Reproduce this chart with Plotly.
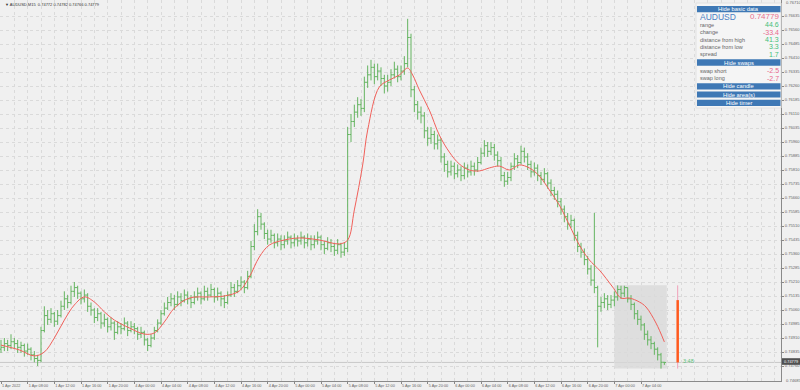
import plotly.graph_objects as go

# ---------------- data (AUDUSD, 30-min aggregation of the M15 chart) ----------------
# bar index in M15 bars counted from 1 Apr 04:00 (weekend gap removed)
bar_index = list(range(0, 400, 2))
first_open = 0.7485
close = [0.7486,0.7488,0.7487,0.7489,0.7488,0.7486,0.7487,0.7484,0.7485,0.7482,
0.7480,0.7479,0.7495,0.7503,0.7501,0.7504,0.7500,0.7503,0.7508,0.7512,
0.7510,0.7516,0.7518,0.7515,0.7512,0.7514,0.7508,0.7506,0.7502,0.7504,
0.7499,0.7501,0.7497,0.7499,0.7494,0.7497,0.7496,0.7499,0.7495,0.7497,
0.7496,0.7493,0.7494,0.7490,0.7487,0.7491,0.7495,0.7499,0.7504,0.7507,
0.7510,0.7512,0.7509,0.7513,0.7511,0.7514,0.7512,0.7510,0.7513,0.7515,
0.7512,0.7516,0.7514,0.7517,0.7513,0.7515,0.7512,0.7510,0.7514,0.7518,
0.7516,0.7519,0.7521,0.7518,0.7524,0.7540,0.7548,0.7556,0.7552,0.7547,
0.7544,0.7546,0.7542,0.7544,0.7541,0.7543,0.7545,0.7542,0.7544,0.7543,
0.7545,0.7542,0.7544,0.7541,0.7543,0.7545,0.7541,0.7539,0.7542,0.7540,
0.7538,0.7541,0.7537,0.7539,0.7600,0.7607,0.7612,0.7616,0.7614,0.7628,
0.7632,0.7636,0.7631,0.7634,0.7630,0.7626,0.7628,0.7632,0.7635,0.7631,
0.7634,0.7638,0.7652,0.7624,0.7616,0.7612,0.7610,0.7602,0.7598,0.7600,
0.7595,0.7597,0.7588,0.7584,0.7580,0.7583,0.7579,0.7581,0.7578,0.7582,
0.7580,0.7583,0.7581,0.7585,0.7590,0.7594,0.7591,0.7593,0.7589,0.7586,
0.7578,0.7575,0.7577,0.7583,0.7587,0.7585,0.7591,0.7588,0.7584,0.7580,
0.7582,0.7578,0.7576,0.7579,0.7574,0.7570,0.7568,0.7564,0.7560,0.7556,
0.7552,0.7554,0.7546,0.7540,0.7537,0.7533,0.7528,0.7522,0.7518,0.7508,
0.7510,0.7512,0.7509,0.75113,0.7513,0.7517,0.7515,0.7518,0.7512,0.7509,
0.7504,0.7501,0.7498,0.7493,0.7490,0.7488,0.7485,0.7482,0.7478,0.74779]
high = [0.7490,0.7491,0.7490,0.7493,0.7491,0.7490,0.7489,0.7488,0.7488,0.7486,
0.7484,0.7482,0.7497,0.7508,0.7506,0.7507,0.7505,0.7506,0.7511,0.7516,
0.7514,0.7519,0.7521,0.7519,0.7516,0.7517,0.7515,0.7510,0.7507,0.7507,
0.7505,0.7504,0.7502,0.7502,0.7500,0.7500,0.7499,0.7502,0.7500,0.7500,
0.7499,0.7497,0.7497,0.7495,0.7491,0.7493,0.7497,0.7501,0.7506,0.7510,
0.7513,0.7515,0.7514,0.7516,0.7515,0.7517,0.7516,0.7514,0.7516,0.7518,
0.7516,0.7519,0.7518,0.7520,0.7518,0.7518,0.7516,0.7514,0.7516,0.7521,
0.7520,0.7522,0.7524,0.7522,0.7527,0.7543,0.7552,0.7560,0.7558,0.7553,
0.7549,0.7549,0.7547,0.7547,0.7546,0.7546,0.7548,0.7546,0.7547,0.7546,
0.7548,0.7546,0.7547,0.7546,0.7546,0.7548,0.7546,0.7543,0.7545,0.7544,
0.7542,0.7544,0.7542,0.7542,0.7604,0.7611,0.7616,0.7620,0.7619,0.7631,
0.7637,0.7640,0.7638,0.7638,0.7636,0.7632,0.7632,0.7635,0.7639,0.7637,
0.7637,0.7642,0.7662,0.7654,0.7626,0.7618,0.7615,0.7612,0.7604,0.7604,
0.7602,0.7600,0.7598,0.7590,0.7586,0.7586,0.7585,0.7584,0.7583,0.7585,
0.7584,0.7586,0.7585,0.7588,0.7593,0.7597,0.7596,0.7596,0.7595,0.7591,
0.7588,0.7580,0.7580,0.7585,0.7590,0.7589,0.7594,0.7593,0.7590,0.7586,
0.7585,0.7584,0.7580,0.7582,0.7580,0.7576,0.7572,0.7570,0.7566,0.7562,
0.7558,0.7557,0.7555,0.7548,0.7542,0.7539,0.7535,0.7530,0.7558,0.7519,
0.7513,0.7515,0.7514,0.7514,0.7516,0.75192,0.7519,0.7519,0.7518,0.7514,
0.7510,0.7506,0.7503,0.7499,0.7495,0.7492,0.7489,0.7486,0.7483,0.74782]
low = [0.7483,0.7484,0.7484,0.7485,0.7485,0.7483,0.7483,0.7481,0.7482,0.7479,
0.7478,0.7476,0.7478,0.7494,0.7498,0.7499,0.7497,0.7498,0.7502,0.7506,
0.7507,0.7509,0.7513,0.7512,0.7509,0.7510,0.7505,0.7503,0.7499,0.7500,
0.7496,0.7497,0.7494,0.7495,0.7490,0.7493,0.7493,0.7495,0.7492,0.7494,
0.7493,0.7490,0.7491,0.7487,0.7484,0.7486,0.7490,0.7494,0.7498,0.7503,
0.7506,0.7508,0.7506,0.7508,0.7508,0.7510,0.7509,0.7507,0.7509,0.7511,
0.7509,0.7511,0.7511,0.7513,0.7510,0.7511,0.7508,0.7507,0.7509,0.7513,
0.7513,0.7515,0.7517,0.7515,0.7517,0.7523,0.7538,0.7546,0.7549,0.7544,
0.7541,0.7542,0.7539,0.7540,0.7538,0.7539,0.7541,0.7539,0.7540,0.7540,
0.7541,0.7539,0.7540,0.7538,0.7539,0.7541,0.7538,0.7536,0.7538,0.7537,
0.7535,0.7536,0.7534,0.7535,0.7537,0.7596,0.7604,0.7609,0.7610,0.7612,
0.7625,0.7629,0.7627,0.7629,0.7626,0.7622,0.7623,0.7626,0.7630,0.7628,
0.7629,0.7632,0.7636,0.7620,0.7612,0.7608,0.7606,0.7598,0.7594,0.7595,
0.7592,0.7592,0.7585,0.7580,0.7577,0.7578,0.7576,0.7577,0.7575,0.7576,
0.7577,0.7578,0.7578,0.7580,0.7584,0.7588,0.7588,0.7589,0.7586,0.7583,
0.7575,0.7572,0.7573,0.7575,0.7581,0.7582,0.7584,0.7585,0.7581,0.7577,
0.7578,0.7575,0.7573,0.7574,0.7571,0.7567,0.7565,0.7561,0.7557,0.7553,
0.7549,0.7550,0.7543,0.7537,0.7534,0.7530,0.7525,0.7519,0.7515,0.7486,
0.7505,0.7507,0.7506,0.7507,0.7508,0.7511,0.7512,0.7513,0.7510,0.7506,
0.7501,0.7498,0.7495,0.7490,0.7487,0.7485,0.7482,0.7479,0.74746,0.74766]

# moving average (red line)
ma_index = [0,11,20,26,32,38,44,50,56,62,68,77,86,92,98,104,113,125,134,143,149,155,161,170,179,
            191,203,208,212,217,220,227,233,239,244,247,251,257,263,269,275,281,287,293,299,305,
            311,317,323,329,335,341,347,353,359,367,372,377,383,387,393,398]
ma_value = [0.74872,0.74846,0.74814,0.74835,0.74910,0.75006,0.75087,0.75130,0.75103,0.75050,0.75006,
            0.74964,0.74931,0.74937,0.74996,0.75070,0.75124,0.75130,0.75135,0.75162,0.75237,0.75344,
            0.75408,0.75435,0.75446,0.75435,0.75414,0.75435,0.75596,0.75837,0.76024,0.76255,0.76292,
            0.76319,0.76356,0.76319,0.76239,0.76131,0.75997,0.75906,0.75842,0.75810,0.75805,0.75821,
            0.75831,0.75810,0.75837,0.75821,0.75778,0.75703,0.75622,0.75515,0.75408,0.75328,0.75274,
            0.75183,0.75124,0.75124,0.75103,0.75076,0.74990,0.74889]

# daily candle (7 Apr) and info panel values
day_open, day_high, day_low, day_close = 0.75113, 0.75192, 0.74746, 0.74779
day_start_index = 368
candle_index = 406
symbol = "AUDUSD"
title_text = "\u25bc AUDUSD,M15  0.74772 0.74782 0.74766 0.74779"
info_labels = ["range", "change", "distance from high", "distance from low", "spread"]
info_values = ["44.6", "-33.4", "41.3", "3.3", "1.7"]
swap_labels = ["swap short", "swap long"]
swap_values = ["-2.5", "-2.7"]
timer_text = "3:48"

x_tick_index = list(range(0, 400, 16))
x_tick_text = ["1 Apr 2022", "1 Apr 08:00", "1 Apr 12:00", "1 Apr 16:00", "1 Apr 20:00",
               "4 Apr 00:00", "4 Apr 04:00", "4 Apr 08:00", "4 Apr 12:00", "4 Apr 16:00", "4 Apr 20:00",
               "5 Apr 00:00", "5 Apr 04:00", "5 Apr 08:00", "5 Apr 12:00", "5 Apr 16:00", "5 Apr 20:00",
               "6 Apr 00:00", "6 Apr 04:00", "6 Apr 08:00", "6 Apr 12:00", "6 Apr 16:00", "6 Apr 20:00",
               "7 Apr 00:00", "7 Apr 04:00"]
y_tick_values = [0.74760, 0.74835, 0.74910, 0.74985, 0.75060, 0.75135, 0.75210, 0.75285, 0.75360,
                 0.75435, 0.75510, 0.75585, 0.75660, 0.75735, 0.75810, 0.75885, 0.75960, 0.76035,
                 0.76110, 0.76185, 0.76260, 0.76335, 0.76410, 0.76485, 0.76560, 0.76635]
y_edge_labels = [0.76710, 0.74685]

# ---------------- figure ----------------
W, H = 800, 390
ML, MR, MT, MB = 0, 19, 0, 9
PW, PH = W - ML - MR, H - MT - MB
BG = "#f0f0f0"
FONT = "Liberation Sans, Arial, sans-serif"
GRID = "#dadada"
AXF = 4.1

def X(px):
    return (px - ML) / PW

def Y(py):
    return 1 - (py - MT) / PH

opens = [first_open] + close[:-1]

fig = go.Figure()

# today's range box
fig.add_shape(type="rect", xref="x", yref="y", x0=day_start_index, x1=bar_index[-1] + 1.5,
              y0=day_low, y1=day_high, fillcolor="#d8d8d8", opacity=0.75, line_width=0, layer="below")
# current price line
fig.add_shape(type="line", xref="paper", yref="y", x0=0, x1=1, y0=day_close, y1=day_close,
              line=dict(color="#c8c8c8", width=1), layer="below")

fig.add_trace(go.Ohlc(x=bar_index, open=opens, high=high, low=low, close=close,
                      increasing=dict(line=dict(color="#64b460", width=1)),
                      decreasing=dict(line=dict(color="#64b460", width=1)),
                      tickwidth=0.5, hoverinfo="skip", showlegend=False))
fig.add_trace(go.Scatter(x=ma_index, y=ma_value, mode="lines", line=dict(color="#f0605a", width=1),
                         line_shape="spline", hoverinfo="skip", showlegend=False))

# daily candle
fig.add_trace(go.Scatter(x=[candle_index, candle_index], y=[day_low, day_high], mode="lines",
                         line=dict(color="#f0a0b8", width=1), hoverinfo="skip", showlegend=False))
fig.add_trace(go.Scatter(x=[candle_index, candle_index], y=[day_open, day_close], mode="lines",
                         line=dict(color="#ff5a1e", width=2.5), hoverinfo="skip", showlegend=False))

ann = []
ann.append(dict(x=candle_index + 2, y=day_close + 0.00008, xref="x", yref="y", text=timer_text,
                showarrow=False, xanchor="left", yanchor="middle",
                font=dict(size=5.5, color="#5cc07a", family=FONT)))
ann.append(dict(x=X(3), y=Y(4), xref="paper", yref="paper", text=title_text, showarrow=False,
                xanchor="left", yanchor="middle", font=dict(size=4, color="#333", family=FONT)))

# price box on the axis
fig.add_shape(type="rect", xref="paper", yref="paper", x0=X(782), x1=X(800), y0=Y(364.8), y1=Y(358.2),
              fillcolor="#505050", line_width=0)
ann.append(dict(x=X(791), y=Y(361.5), xref="paper", yref="paper", text=f"{day_close:.5f}", showarrow=False,
                xanchor="center", yanchor="middle", font=dict(size=3.9, color="white", family=FONT)))
for v in y_edge_labels:
    ann.append(dict(x=X(784), y=v, xref="paper", yref="y", text=f"{v:.5f}", showarrow=False,
                    xanchor="left", yanchor="middle", font=dict(size=AXF, color="#666", family=FONT)))

# info panel
fig.add_shape(type="rect", xref="paper", yref="paper", x0=X(696), x1=X(781), y0=Y(108), y1=Y(3),
              fillcolor="#f5f5f5", line=dict(color="#e2e2e2", width=1))

BTN = "#3e78b5"
def button(y0, y1, label):
    fig.add_shape(type="rect", xref="paper", yref="paper", x0=X(697), x1=X(780.5), y0=Y(y1), y1=Y(y0),
                  fillcolor=BTN, line_width=0)
    ann.append(dict(x=X(738.5), y=Y((y0 + y1) / 2), xref="paper", yref="paper", text=label,
                    showarrow=False, xanchor="center", yanchor="middle",
                    font=dict(size=5.8, color="white", family=FONT)))

button(6, 12.3, "Hide basic data")
ann.append(dict(x=X(697.5), y=Y(17), xref="paper", yref="paper", text=symbol, showarrow=False,
                xanchor="left", yanchor="middle", font=dict(size=8.5, color="#4a80c4", family=FONT)))
ann.append(dict(x=X(780.5), y=Y(17), xref="paper", yref="paper", text=f"{day_close:.5f}", showarrow=False,
                xanchor="right", yanchor="middle", font=dict(size=8, color="#e87090", family=FONT)))
GREEN, PINK = "#44c07a", "#e8688c"
for k, (lab, val) in enumerate(zip(info_labels, info_values)):
    yy = 25 + 7.3 * k
    ann.append(dict(x=X(697.5), y=Y(yy), xref="paper", yref="paper", text=lab, showarrow=False,
                    xanchor="left", yanchor="middle", font=dict(size=5.5, color="#666", family=FONT)))
    ann.append(dict(x=X(780.5), y=Y(yy), xref="paper", yref="paper", text=val, showarrow=False,
                    xanchor="right", yanchor="middle",
                    font=dict(size=7, color=PINK if val.startswith("-") else GREEN, family=FONT)))
button(59.3, 65.7, "Hide swaps")
for k, (lab, val) in enumerate(zip(swap_labels, swap_values)):
    yy = 70.7 + 7.5 * k
    ann.append(dict(x=X(697.5), y=Y(yy), xref="paper", yref="paper", text=lab, showarrow=False,
                    xanchor="left", yanchor="middle", font=dict(size=5.5, color="#666", family=FONT)))
    ann.append(dict(x=X(780.5), y=Y(yy), xref="paper", yref="paper", text=val, showarrow=False,
                    xanchor="right", yanchor="middle", font=dict(size=7, color=PINK, family=FONT)))
button(83.3, 89.5, "Hide candle")
button(91.5, 97.5, "Hide area(s)")
button(99.7, 106, "Hide timer")

x_lo = -0.6
x_hi = x_lo + PW / 1.6667
y_lo = 0.74760 - (381 - 366) * 0.00075 / 14
y_hi = 0.74760 + 366 * 0.00075 / 14

fig.update_layout(
    width=W, height=H, margin=dict(l=ML, r=MR, t=MT, b=MB),
    paper_bgcolor=BG, plot_bgcolor=BG, annotations=ann,
    font=dict(family=FONT, size=AXF, color="#666"),
    xaxis=dict(range=[x_lo, x_hi], tickvals=x_tick_index, ticktext=x_tick_text, tickangle=0,
               ticklabelposition="outside right", ticks="outside", ticklen=2, tickcolor="#888",
               showgrid=True, gridcolor=GRID, griddash="dot", gridwidth=1,
               minor=dict(dtick=8, tick0=0, showgrid=True, gridcolor=GRID, griddash="dot"),
               showline=True, linecolor="#8a8a8a", linewidth=1, zeroline=False,
               rangeslider=dict(visible=False), tickfont=dict(size=3.8, color="#666"), fixedrange=True),
    yaxis=dict(range=[y_lo, y_hi], side="right", tickvals=y_tick_values,
               ticktext=[f"{v:.5f}" for v in y_tick_values], ticks="outside", ticklen=2, tickcolor="#888",
               showgrid=True, gridcolor=GRID, griddash="dot", gridwidth=1,
               showline=True, linecolor="#8a8a8a", linewidth=1, zeroline=False,
               tickfont=dict(size=AXF, color="#666"), fixedrange=True),
)

fig.write_html("out.html")
